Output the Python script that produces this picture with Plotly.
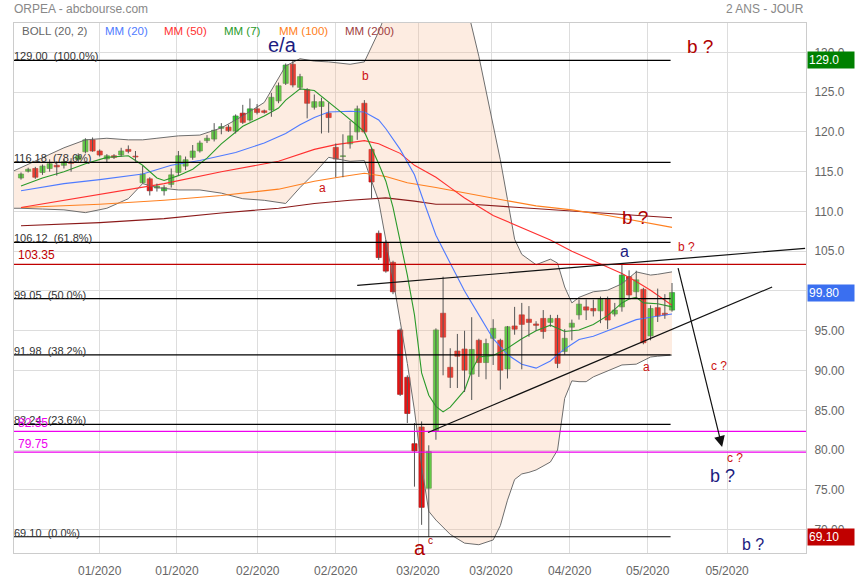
import plotly.graph_objects as go

# ---------------- data ----------------
OPEN = [114.2,115.05,115.4,114.9,115.4,115.8,115.8,116.2,116.5,117.5,119.0,117.6,116.6,117.0,117.1,117.8,116.95,113.6,114.1,112.95,
        112.6,113.4,114.9,115.7,116.8,117.6,118.9,119.1,120.45,120.6,120.1,122.35,121.5,122.9,122.65,122.75,123.9,126.1,128.5,125.6,
        125.3,123.1,123.2,122.35,118.05,116.9,118.5,120.0,123.6,117.8,107.25,106.1,103.6,95.1,89.15,80.8,82.9,75.2,82.4,97.2,
        90.4,92.45,92.7,89.55,93.8,91.0,94.05,93.8,90.2,95.6,97.0,96.45,95.85,96.55,96.05,96.55,92.4,95.45,97.0,98.0,
        97.8,97.5,98.95,97.1,98.0,101.8,99.9,100.2,94.35,97.9,97.2,97.6]
HIGH = [114.9,115.5,115.6,115.9,116.55,116.3,116.6,116.7,117.3,119.2,119.3,117.8,117.2,117.2,118.0,118.3,117.6,115.75,114.3,113.5,
        113.3,115.4,117.6,116.9,118.35,118.9,119.6,121.1,121.1,120.9,122.2,123.4,124.2,123.5,122.8,124.9,126.2,128.6,129.0,127.3,
        125.5,124.7,124.3,123.7,118.55,119.7,121.4,123.3,124.0,118.0,107.6,106.4,103.8,95.3,89.4,83.4,83.6,80.6,95.3,101.8,
        92.8,94.6,95.0,96.7,94.0,94.0,96.45,94.0,95.6,98.0,98.5,98.1,96.2,97.6,97.0,97.0,95.2,96.4,98.9,98.95,
        98.9,99.3,99.3,98.5,103.3,102.6,102.55,100.4,98.2,100.3,99.6,101.0]
LOW = [114.0,114.9,114.1,114.6,115.0,114.5,115.4,115.0,116.2,117.3,117.5,116.9,116.2,116.6,116.9,117.3,116.25,113.5,112.0,112.5,
       112.0,113.0,114.5,115.2,116.5,117.4,118.6,118.8,119.7,120.0,119.8,121.0,121.3,122.2,122.3,121.9,123.6,125.9,125.6,125.3,
       121.7,122.8,119.8,119.9,114.3,114.3,117.9,119.0,119.8,111.6,103.9,102.3,99.6,86.8,83.4,75.4,70.6,69.1,81.3,89.4,
       87.8,87.8,87.3,86.3,89.2,88.9,90.7,87.6,89.0,94.5,90.15,94.25,94.97,94.0,95.5,90.3,92.0,93.8,96.4,96.35,
       96.8,95.95,95.2,96.8,97.4,99.0,99.1,93.3,93.8,96.1,96.5,97.4]
CLOSE = [114.7,115.3,114.3,115.7,116.0,115.6,116.25,116.05,117.0,119.0,117.6,117.1,117.0,116.8,117.6,117.55,116.85,114.7,112.6,113.2,
         113.0,114.6,117.0,116.5,117.6,118.6,119.2,120.2,120.65,120.15,122.0,121.2,122.9,122.45,122.45,124.35,125.8,128.4,125.9,126.95,
         123.6,123.8,123.8,121.8,116.6,117.0,119.5,122.9,120.0,113.7,104.2,102.5,99.9,87.0,84.6,79.9,72.8,79.8,95.1,94.2,
         89.15,91.8,90.05,92.65,91.0,93.4,95.3,90.05,95.5,95.2,95.8,96.05,95.68,94.9,96.55,90.9,94.05,95.95,98.35,97.6,
         97.5,98.95,96.35,97.6,102.0,99.5,101.4,93.5,97.8,96.85,97.0,99.8]

# Bollinger (20, 2)
BB_IDX = [-1, 0, 3, 6, 9, 12, 15, 17, 19, 22, 25, 28, 31, 34, 37, 39, 41, 43, 46, 48, 50, 51, 52, 53, 54, 55, 56, 57, 58,
          60, 62, 64, 66, 67, 68, 69, 70, 71, 72, 74, 75, 76, 77, 78, 79, 80, 82, 84, 86, 88, 89, 91]
BB_UP = [115.1, 115.5, 116.8, 118.0, 119.0, 119.2, 119.0, 119.0, 119.2, 119.5, 119.6, 120.5, 122.0, 123.7, 128.3, 129.2, 128.9,
         128.8, 128.5, 128.8, 132.6, 135.0, 137.5, 140.0, 142.0, 143.5, 144.5, 145.0, 144.5, 142.0, 137.0, 129.5, 121.0, 116.5,
         111.5, 106.5, 104.6, 104.0, 103.3, 104.0, 103.5, 100.5, 98.5, 99.2, 99.5, 99.9, 100.1, 100.9, 102.4, 102.0, 102.1, 102.4]
BB_LOW = [110.4, 110.4, 110.3, 110.2, 109.85, 110.4, 111.6, 113.5, 113.0, 112.7, 112.7, 112.3, 111.6, 111.4, 111.0, 113.0, 114.8,
          116.8, 116.3, 116.4, 111.3, 106.5, 101.5, 96.2, 90.9, 85.0, 78.0, 72.3, 71.2, 69.4, 68.3, 68.1, 68.7, 70.5, 73.7,
          76.3, 77.0, 77.2, 77.5, 78.5, 80.0, 86.5, 88.7, 88.6, 88.6, 89.2, 90.0, 90.7, 90.8, 91.7, 91.8, 91.95]

MM7_IDX = [0, 3, 6, 9, 12, 15, 17, 19, 20, 22, 24, 26, 28, 31, 34, 36, 37, 39, 41, 43, 45, 47, 48, 50, 51, 52, 53, 54, 55, 56,
           57, 58, 59, 60, 62, 63, 64, 66, 68, 70, 72, 74, 75, 76, 78, 80, 82, 84, 85, 86, 87, 89, 91]
MM7 = [113.2, 114.2, 115.0, 116.0, 116.8, 117.0, 115.8, 114.2, 113.9, 114.5, 115.3, 116.7, 118.5, 120.7, 122.0, 123.0, 124.0,
       125.4, 125.2, 123.8, 122.3, 120.8, 120.0, 116.0, 113.8, 110.5, 106.4, 102.0, 97.0, 89.7, 86.9, 85.5, 84.8, 85.4, 87.5,
       90.0, 91.7, 91.9, 92.8, 94.0, 95.0, 95.7, 95.3, 94.9, 95.1, 95.8, 96.9, 98.5, 99.0, 99.2, 98.5, 98.4, 98.0]

MM20_IDX = [0, 6, 11, 17, 21, 25, 30, 34, 37, 39, 41, 43, 46, 48, 50, 51, 53, 55, 56, 57, 58, 60, 62, 64, 66, 68, 70, 72, 74,
            75, 76, 78, 80, 82, 84, 86, 88, 91]
MM20 = [112.6, 113.5, 114.0, 114.7, 115.8, 116.4, 117.4, 118.6, 119.8, 120.9, 121.8, 122.5, 122.6, 122.5, 121.5, 120.4, 117.8,
        114.6, 112.0, 109.4, 107.0, 103.5, 100.0, 97.0, 94.0, 92.0, 90.8, 90.3, 91.2, 92.0, 92.7, 93.9, 94.3, 95.0, 95.7, 96.4,
        96.7, 97.1]

MM50_IDX = [0, 11, 20, 28, 36, 41, 44, 48, 50, 51, 53, 55, 58, 60, 62, 66, 70, 74, 77, 80, 82, 84, 86, 88, 91]
MM50 = [110.5, 112.1, 113.5, 115.0, 116.3, 117.8, 118.4, 118.9, 118.5, 118.1, 117.3, 115.8, 114.3, 113.0, 111.7, 109.5, 108.0,
        106.4, 105.0, 103.8, 103.1, 102.2, 101.2, 100.1, 98.2]

MM100_IDX = [0, 11, 20, 28, 36, 41, 45, 48, 51, 54, 58, 62, 67, 72, 77, 82, 86, 91]
MM100 = [110.5, 110.9, 111.4, 112.0, 112.8, 113.8, 114.4, 114.8, 114.4, 113.6, 113.0, 112.3, 111.5, 110.7, 110.2, 109.5, 108.8,
         108.0]

MM200_IDX = [0, 11, 20, 28, 36, 41, 46, 51, 55, 58, 63, 68, 74, 80, 86, 91]
MM200 = [108.2, 108.6, 109.1, 109.8, 110.4, 111.0, 111.4, 111.7, 111.3, 110.9, 110.9, 110.6, 110.3, 109.9, 109.5, 109.2]

FIB_LEVELS = [129.00, 116.18, 106.12, 99.05, 91.98, 83.24, 69.10]
FIB_PCT = ["100.0%", "78.6%", "61.8%", "50.0%", "38.2%", "23.6%", "0.0%"]
FIB_END = 90.8

RED_LEVEL = 103.35
MAGENTA_LEVELS = [82.35, 79.75]

# trend lines: (index, price) end points
UPPER_TREND = [(47.0, 100.7), (109.6, 105.36)]
LOWER_TREND = [(56.9, 82.2), (105.0, 100.5)]
ARROW = [(91.8, 103.05), (98.0, 80.4)]

X_TICK_POS = [11.0, 21.8, 33.1, 44.0, 55.5, 65.7, 76.7, 87.6, 98.7]
X_TICK_LABELS = ["01/2020", "01/2020", "02/2020", "02/2020", "03/2020", "03/2020", "04/2020", "05/2020", "05/2020"]
Y_TICKS = [70, 75, 80, 85, 90, 95, 100, 105, 110, 115, 120, 125, 130]
Y_TICK_LABELS = ["70.00", "75.00", "80.00", "85.00", "90.00", "95.00", "100.0", "105.0", "110.0", "115.0", "120.0", "125.0", "130.0"]

LAST_PRICE = 99.80
X_RANGE = [-0.98, 109.73]
Y_RANGE = [67.06, 133.69]

FONT = "Arial, 'Liberation Sans', sans-serif"
GREEN = "#2ad82a"
RED = "#f01010"

# ---------------- figure ----------------
fig = go.Figure()
idx = list(range(len(CLOSE)))

# Bollinger band
fig.add_trace(go.Scatter(x=BB_IDX, y=BB_UP, mode="lines", line=dict(color="#6e6e6e", width=1), hoverinfo="skip"))
fig.add_trace(go.Scatter(x=BB_IDX, y=BB_LOW, mode="lines", line=dict(color="#6e6e6e", width=1),
                         fill="tonexty", fillcolor="rgba(248,185,145,0.27)", hoverinfo="skip"))

# moving averages
for xs, ys, col in [(MM200_IDX, MM200, "#8b1a1a"), (MM100_IDX, MM100, "#ff8020"), (MM50_IDX, MM50, "#ff3030"),
                    (MM20_IDX, MM20, "#4f7bff"), (MM7_IDX, MM7, "#2a9a2a")]:
    fig.add_trace(go.Scatter(x=xs, y=ys, mode="lines", line=dict(color=col, width=1.1), hoverinfo="skip"))

# wicks
wx, wy = [], []
for i in idx:
    wx += [i, i, None]
    wy += [LOW[i], HIGH[i], None]
fig.add_trace(go.Scatter(x=wx, y=wy, mode="lines", line=dict(color="#555555", width=1), hoverinfo="skip"))

# bodies
base = [min(o, c) for o, c in zip(OPEN, CLOSE)]
height = [max(abs(c - o), 0.1) for o, c in zip(OPEN, CLOSE)]
cols = [GREEN if c >= o else RED for o, c in zip(OPEN, CLOSE)]
lcols = ["#3c8c3c" if c >= o else "#b01515" for o, c in zip(OPEN, CLOSE)]
fig.add_trace(go.Bar(x=idx, y=height, base=base, width=0.72, marker=dict(color=cols, line=dict(color=lcols, width=0.7)),
                     hoverinfo="skip"))

shapes = []
annotations = []

# fib lines and labels
for lvl, pct in zip(FIB_LEVELS, FIB_PCT):
    shapes.append(dict(type="line", xref="x", yref="y", x0=X_RANGE[0], x1=FIB_END, y0=lvl, y1=lvl,
                       line=dict(color="#000000", width=1.2), layer="above"))
    annotations.append(dict(xref="paper", yref="y", x=0, y=lvl, xanchor="left", yanchor="bottom", yshift=-4, xshift=-2,
                            text=f"{lvl:.2f}  ({pct})", showarrow=False, font=dict(family=FONT, size=11, color="#333333")))

# red and magenta horizontal levels
shapes.append(dict(type="line", xref="paper", yref="y", x0=0, x1=1, y0=RED_LEVEL, y1=RED_LEVEL,
                   line=dict(color="#c00000", width=1.2), layer="above"))
annotations.append(dict(xref="paper", yref="y", x=0.003, y=RED_LEVEL, xanchor="left", yanchor="bottom", yshift=0,
                        text=f"{RED_LEVEL:.2f}", showarrow=False, font=dict(family=FONT, size=12, color="#c00000")))
for lvl in MAGENTA_LEVELS:
    shapes.append(dict(type="line", xref="paper", yref="y", x0=0, x1=1, y0=lvl, y1=lvl,
                       line=dict(color="#ee00ee", width=1.2), layer="above"))
    annotations.append(dict(xref="paper", yref="y", x=0.003, y=lvl, xanchor="left", yanchor="bottom", yshift=-1,
                            text=f"{lvl:.2f}", showarrow=False, font=dict(family=FONT, size=12, color="#ee00ee")))

# trend lines
for (x0, y0), (x1, y1) in [UPPER_TREND, LOWER_TREND]:
    shapes.append(dict(type="line", xref="x", yref="y", x0=x0, y0=y0, x1=x1, y1=y1,
                       line=dict(color="#111111", width=1.2), layer="above"))
annotations.append(dict(xref="x", yref="y", axref="x", ayref="y", x=ARROW[1][0], y=ARROW[1][1], ax=ARROW[0][0],
                        ay=ARROW[0][1], text="", showarrow=True, arrowhead=2, arrowsize=1.8, arrowwidth=1.2,
                        arrowcolor="#111111"))

# wave labels
NAVY = "#1c1c80"
DRED = "#b00000"
for x, y, t, col, sz in [(36.5, 130.9, "e/a", NAVY, 20), (48.2, 127.0, "b", "#cc1111", 12), (42.2, 112.9, "a", "#cc1111", 12),
                          (94.9, 130.7, "b ?", DRED, 19), (85.8, 109.2, "b ?", DRED, 19), (84.4, 105.0, "a", NAVY, 16),
                          (93.0, 105.5, "b ?", "#cc1111", 12), (87.4, 90.4, "a", "#cc1111", 12),
                          (97.6, 90.6, "c ?", "#cc1111", 12), (99.8, 79.0, "c ?", "#cc1111", 12),
                          (98.0, 76.7, "b ?", NAVY, 18), (102.3, 68.1, "b ?", NAVY, 16), (55.8, 67.7, "a", DRED, 20),
                          (57.2, 68.6, "c", DRED, 10)]:
    annotations.append(dict(xref="x", yref="y", x=x, y=y, text=t, showarrow=False, font=dict(family=FONT, size=sz, color=col)))

# legend row
for xp, t, col in [(0.0076, "BOLL (20, 2)", "#666666"), (0.112, "MM (20)", "#4f7bff"), (0.187, "MM (50)", "#ff3030"),
                   (0.263, "MM (7)", "#2a9a2a"), (0.332, "MM (100)", "#ff8020"), (0.415, "MM (200)", "#a04040")]:
    annotations.append(dict(xref="paper", yref="paper", x=xp, y=0.985, xanchor="left", yanchor="middle", text=t,
                            showarrow=False, font=dict(family=FONT, size=11.5, color=col)))

# titles
annotations.append(dict(xref="paper", yref="paper", x=0, y=1.027, xanchor="left", yanchor="middle", xshift=-2,
                        text="ORPEA - abcbourse.com", showarrow=False, font=dict(family=FONT, size=12, color="#888888")))
annotations.append(dict(xref="paper", yref="paper", x=1, y=1.027, xanchor="right", yanchor="middle",
                        text="2 ANS - JOUR", showarrow=False, font=dict(family=FONT, size=12, color="#888888")))

# price boxes on the right axis
for val, txt, bg in [(FIB_LEVELS[0], "129.0", "#008000"), (LAST_PRICE, f"{LAST_PRICE:.2f}", "#3a6ff0"),
                     (FIB_LEVELS[-1], "69.10", "#c00000")]:
    annotations.append(dict(xref="paper", yref="y", x=1, y=val, xanchor="left", yanchor="middle", xshift=1,
                            text=txt, showarrow=False, bgcolor=bg, width=44, align="left", borderpad=1,
                            font=dict(family=FONT, size=12, color="#ffffff")))

fig.update_layout(
    width=855, height=580,
    margin=dict(l=14, r=49, t=23, b=27, autoexpand=False),
    paper_bgcolor="#ffffff", plot_bgcolor="#ffffff",
    showlegend=False, barmode="overlay", hovermode=False,
    shapes=shapes, annotations=annotations,
    xaxis=dict(range=X_RANGE, tickvals=X_TICK_POS, ticktext=X_TICK_LABELS, showgrid=True, gridcolor="#dddddd",
               zeroline=False, showline=True, linecolor="#cccccc", mirror=True, ticks="", automargin=False,
               ticklabelstandoff=7, tickfont=dict(family=FONT, size=12, color="#666666")),
    yaxis=dict(range=Y_RANGE, side="right", tickvals=Y_TICKS, ticktext=Y_TICK_LABELS, showgrid=True, gridcolor="#dddddd",
               zeroline=False, showline=True, linecolor="#cccccc", mirror=True, ticks="", ticklabelstandoff=5,
               automargin=False, tickfont=dict(family=FONT, size=12, color="#666666")),
)

# remove the default 8px page margin so the figure fills the 855x580 window exactly
fig.write_html("out.html", config={"displayModeBar": False},
               post_script="document.body.style.margin='0';")
